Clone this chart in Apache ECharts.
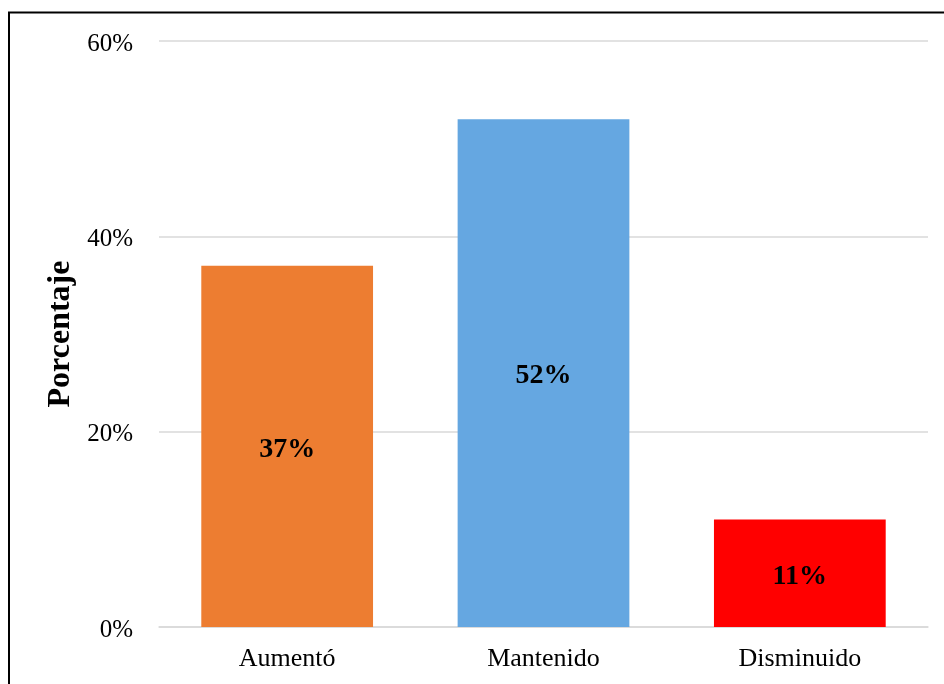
<!DOCTYPE html>
<html><head><meta charset="utf-8">
<script src="https://cdn.jsdelivr.net/npm/echarts@6/dist/echarts.min.js"></script>
<style>html,body{margin:0;padding:0;background:#fff}#c{width:944px;height:684px}</style>
</head><body><div id="c"></div>
<script>
const categories = ['Aumentó', 'Mantenido', 'Disminuido'];
const values = [37, 52, 11];
const barColors = ['#ED7D31', '#65A7E1', '#FF0000'];
const yTicks = [0, 20, 40, 60];

const chart = echarts.init(document.getElementById('c'), null, {renderer: 'canvas'});
const font = '"Liberation Serif", "Times New Roman", serif';
chart.setOption({
  animation: false,
  backgroundColor: '#fff',
  graphic: [{
    type: 'rect',
    shape: {x: 9, y: 12.5, width: 960, height: 700},
    style: {fill: 'none', stroke: '#000', lineWidth: 2}
  }],
  grid: {left: 159, right: 16, top: 41, bottom: 57},
  xAxis: {
    type: 'category', data: categories,
    axisLine: {show: true, lineStyle: {color: '#d9d9d9', width: 1.5}},
    axisTick: {show: false},
    axisLabel: {color: '#000', fontFamily: font, fontSize: 26, margin: 19}
  },
  yAxis: {
    type: 'value', min: yTicks[0], max: yTicks[yTicks.length - 1], interval: 20,
    name: 'Porcentaje', nameLocation: 'middle', nameGap: 81,
    nameTextStyle: {color: '#000', fontFamily: font, fontSize: 32, fontWeight: 'bold'},
    axisLine: {show: false}, axisTick: {show: false},
    splitLine: {lineStyle: {color: '#d9d9d9', width: 1.5}},
    axisLabel: {
      color: '#000', fontFamily: font, fontSize: 25, margin: 26,
      formatter: v => '{t|' + v + '%}',
      rich: {t: {color: '#000', fontFamily: font, fontSize: 25, padding: [6, 0, 0, 0]}}
    }
  },
  series: [{
    type: 'bar',
    data: values.map((v, i) => ({value: v, itemStyle: {color: barColors[i]}})),
    barCategoryGap: '33%',
    label: {
      show: true, position: 'inside', offset: [0, 3], formatter: '{c}%',
      color: '#000', fontFamily: font, fontSize: 28, fontWeight: 'bold'
    }
  }]
});
</script></body></html>
